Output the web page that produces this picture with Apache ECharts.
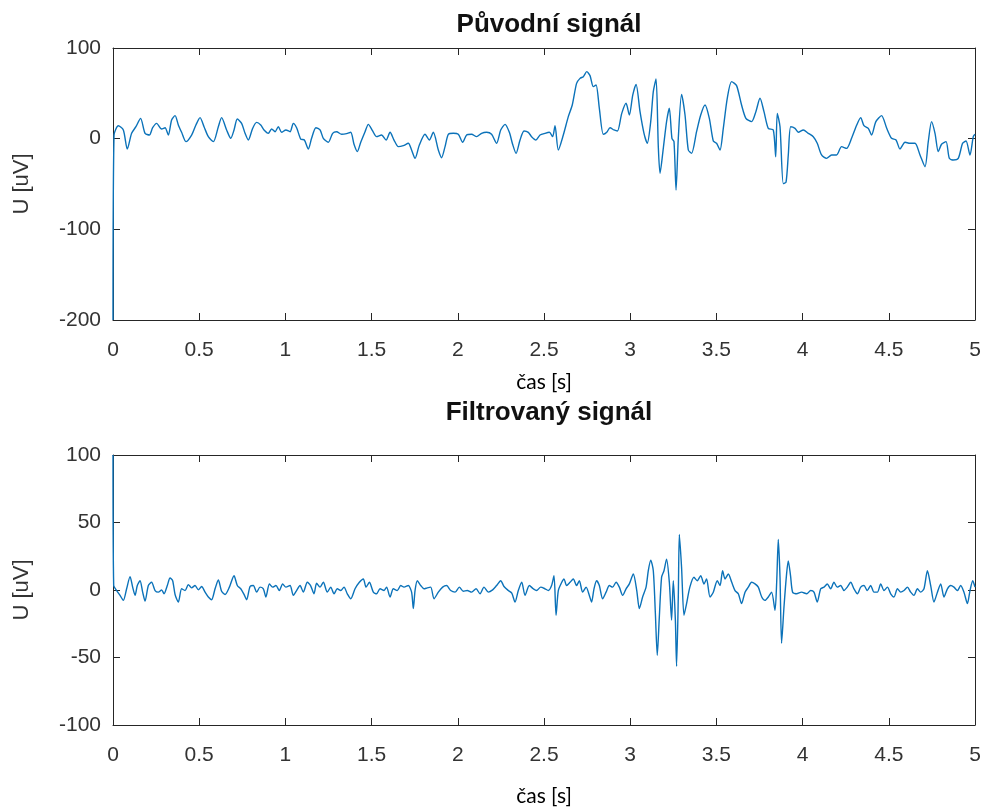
<!DOCTYPE html>
<html>
<head>
<meta charset="utf-8">
<script src="https://cdn.jsdelivr.net/npm/echarts@6/dist/echarts.min.js"></script>
<style>
html,body{margin:0;padding:0;background:#fff;}
#chart{width:988px;height:810px;}
</style>
</head>
<body>
<div id="chart"></div>
<script>
// ---- Data ----
const titles = ['Původní signál', 'Filtrovaný signál'];
const xLabel = 'čas [s]';
const yLabel = 'U [uV]';

const origT = [0,0.006,0.031,0.060,0.083,0.108,0.133,0.160,0.186,0.211,0.230,0.253,0.282,0.302,0.321,0.340,0.360,0.379,0.398,0.423,0.456,0.481,0.505,0.528,0.553,0.582,0.611,0.630,0.659,0.683,0.702,0.721,0.746,0.766,0.785,0.810,0.833,0.857,0.876,0.901,0.920,0.940,0.959,0.978,1.003,1.027,1.046,1.065,1.089,1.110,1.133,1.152,1.177,1.201,1.220,1.249,1.274,1.297,1.326,1.355,1.379,1.398,1.417,1.437,1.462,1.481,1.506,1.529,1.558,1.584,1.607,1.630,1.655,1.684,1.713,1.732,1.752,1.777,1.810,1.835,1.858,1.887,1.906,1.926,1.945,1.974,2.003,2.028,2.051,2.080,2.109,2.138,2.167,2.196,2.225,2.249,2.274,2.299,2.318,2.338,2.361,2.384,2.409,2.428,2.453,2.477,2.506,2.531,2.550,2.564,2.583,2.612,2.641,2.664,2.689,2.709,2.728,2.748,2.767,2.786,2.802,2.821,2.844,2.864,2.883,2.906,2.926,2.951,2.976,2.995,3.015,3.034,3.057,3.080,3.099,3.119,3.134,3.150,3.163,3.173,3.192,3.211,3.227,3.242,3.254,3.266,3.279,3.298,3.318,3.337,3.356,3.385,3.409,3.434,3.459,3.482,3.501,3.521,3.540,3.563,3.588,3.617,3.646,3.671,3.704,3.729,3.753,3.776,3.801,3.830,3.844,3.853,3.869,3.888,3.904,3.917,3.931,3.956,3.975,4.004,4.033,4.062,4.085,4.110,4.139,4.168,4.197,4.226,4.255,4.284,4.314,4.337,4.356,4.381,4.400,4.425,4.458,4.488,4.516,4.542,4.565,4.594,4.623,4.652,4.681,4.710,4.729,4.748,4.768,4.787,4.806,4.832,4.851,4.874,4.903,4.928,4.948,4.971,4.990,5.000];
const origV = [-200,4.0,14.3,9.6,-11.4,5.9,13.2,22.4,5.9,4.0,12.1,16.9,10.7,12.1,4.0,20.6,25.4,15.1,7.0,-3.3,4.0,15.1,23.2,13.2,2.2,-3.3,13.2,23.2,9.6,0.4,9.6,21.7,16.9,5.9,-1.5,11.4,18.0,15.1,9.6,5.9,10.7,7.7,13.2,7.0,9.6,7.7,16.9,12.1,-0.4,-1.5,-11.4,0.4,12.1,9.6,0.4,-4.0,5.9,7.7,4.8,5.5,7.0,-6.2,-14.3,-4.0,7.7,15.8,8.5,2.2,4.0,-1.5,7.0,-1.5,-8.8,-7.7,-5.1,-12.5,-21.7,-7.0,4.8,-1.5,7.0,-12.5,-21.0,-8.8,4.8,5.9,4.8,-4.0,4.0,4.8,2.2,5.9,7.0,4.8,-5.1,9.6,15.8,7.0,-6.2,-16.2,-1.5,8.5,7.0,2.2,-1.5,4.0,5.9,7.0,2.2,14.3,-12.5,4.0,24.3,37.1,61.0,66.5,68.4,73.9,69.5,57.4,59.2,33.5,4.8,7.0,12.1,9.6,8.5,27.9,39.0,26.1,48.2,59.9,29.8,5.9,-5.1,18.8,51.8,65.8,-8.8,-38.2,-10.7,18.8,33.5,0.4,-3.3,-56.6,0.4,48.9,26.1,-12.5,-16.2,7.7,26.1,37.1,22.4,-2.6,-5.1,-12.5,11.4,44.5,62.9,58.5,37.1,22.4,18.8,29.8,44.5,29.8,11.4,9.6,-19.9,27.9,13.2,-49.6,-47.8,-18.0,13.2,11.4,7.0,9.6,5.9,2.2,-5.1,-18.0,-21.7,-18.0,-18.0,-8.8,-10.7,0.4,15.1,23.2,14.3,11.4,4.0,18.8,25.4,11.4,0.4,-1.5,-11.4,-4.0,-5.1,-5.1,-18.0,-30.9,-3.3,18.8,5.9,-14.3,-6.2,-3.3,-21.7,-23.5,-21.7,-5.1,-2.6,-18.0,2.2,4.8];

const filtT = [0,0.004,0.021,0.041,0.060,0.079,0.099,0.114,0.128,0.141,0.157,0.172,0.186,0.205,0.224,0.244,0.263,0.282,0.296,0.315,0.331,0.346,0.360,0.379,0.398,0.418,0.437,0.456,0.476,0.495,0.514,0.534,0.553,0.572,0.592,0.611,0.630,0.650,0.675,0.702,0.721,0.741,0.760,0.775,0.795,0.814,0.833,0.853,0.872,0.887,0.907,0.926,0.945,0.965,0.984,1.003,1.027,1.046,1.065,1.085,1.104,1.127,1.146,1.166,1.181,1.201,1.220,1.243,1.263,1.282,1.301,1.321,1.340,1.359,1.379,1.404,1.429,1.452,1.468,1.487,1.510,1.529,1.549,1.572,1.587,1.607,1.626,1.649,1.669,1.688,1.713,1.732,1.742,1.752,1.765,1.785,1.804,1.823,1.843,1.862,1.887,1.912,1.935,1.959,1.984,2.009,2.032,2.055,2.080,2.106,2.129,2.152,2.177,2.202,2.225,2.249,2.268,2.293,2.313,2.332,2.351,2.371,2.390,2.415,2.438,2.457,2.481,2.506,2.525,2.544,2.558,2.570,2.583,2.603,2.616,2.631,2.651,2.670,2.689,2.705,2.724,2.744,2.763,2.776,2.790,2.805,2.821,2.840,2.860,2.879,2.898,2.918,2.937,2.956,2.976,2.995,3.018,3.038,3.053,3.072,3.092,3.105,3.119,3.134,3.146,3.157,3.169,3.182,3.196,3.211,3.227,3.240,3.250,3.262,3.269,3.279,3.285,3.298,3.312,3.327,3.346,3.370,3.389,3.409,3.428,3.443,3.463,3.482,3.505,3.521,3.536,3.550,3.569,3.589,3.608,3.627,3.646,3.666,3.685,3.704,3.724,3.743,3.763,3.782,3.801,3.820,3.840,3.850,3.859,3.869,3.878,3.892,3.907,3.917,3.930,3.942,3.965,3.994,4.024,4.047,4.066,4.085,4.105,4.124,4.143,4.163,4.182,4.201,4.221,4.240,4.259,4.279,4.298,4.318,4.337,4.356,4.375,4.395,4.414,4.434,4.453,4.472,4.492,4.511,4.530,4.550,4.569,4.588,4.608,4.627,4.646,4.666,4.685,4.704,4.724,4.743,4.762,4.782,4.801,4.820,4.840,4.859,4.878,4.898,4.917,4.936,4.956,4.971,4.987,5.000];
const filtV = [100,3.3,-0.4,-4.0,-7.7,0.9,9.9,2.1,-4.0,3.3,6.9,-1.6,-8.2,3.3,5.7,-0.4,-1.6,0.1,-2.8,3.3,8.9,6.9,-3.3,-8.9,0.9,-0.4,4.0,1.6,3.3,0.1,2.6,-1.6,-5.2,-7.2,0.9,7.4,-0.9,-3.3,2.1,10.6,3.3,0.9,-3.3,-7.2,2.6,3.3,-1.6,2.1,0.9,-5.2,4.5,2.1,3.3,-0.4,4.5,2.1,3.3,-4.0,-0.4,3.3,-1.6,5.7,3.3,-2.8,5.0,2.1,5.7,-1.6,2.1,-2.8,0.9,-0.4,2.1,-2.8,-6.5,0.9,5.7,8.2,2.1,5.7,-1.6,-2.8,0.9,-0.4,2.1,-5.2,0.9,-0.4,3.3,2.1,3.3,-1.6,-13.8,-0.4,6.9,3.3,0.9,1.6,2.1,-6.5,-1.6,2.1,3.3,-0.4,-1.6,2.1,-0.9,-0.4,-1.6,0.9,-2.8,2.1,-1.6,0.1,3.3,6.9,2.6,-0.4,-2.3,-8.9,-0.4,5.7,-4.0,3.3,0.9,-0.4,2.1,0.9,-0.4,3.3,10.6,-18.7,-0.4,5.7,8.2,3.3,5.7,8.2,3.3,6.9,-1.6,2.1,-4.0,-8.9,0.9,6.9,3.3,-6.5,-1.6,3.3,2.1,5.7,2.1,-4.0,0.9,4.5,11.8,-0.4,-13.8,-5.2,2.1,14.3,22.1,14.3,-17.4,-48.4,-19.9,9.4,14.3,22.8,5.7,-22.3,6.9,-22.3,-56.5,-5.2,41.1,16.7,-18.7,-10.1,2.1,9.4,6.9,10.6,4.5,8.2,-5.2,-1.6,6.9,3.3,14.3,8.2,11.8,5.7,-0.4,-2.8,-10.1,-1.6,2.1,5.7,4.5,2.1,-5.2,-7.7,-5.2,-1.6,-15.0,6.9,37.4,9.4,-39.4,-12.6,11.8,21.6,10.6,-1.6,-2.8,-1.6,-2.8,-0.4,-1.6,-8.9,0.9,2.1,4.5,0.9,5.7,2.1,3.3,-0.4,2.1,5.7,0.9,-2.8,2.1,3.3,-0.4,3.3,-1.6,-1.6,4.5,-0.4,2.1,-2.8,-5.2,0.9,-1.6,-0.4,2.1,-1.6,-4.0,0.9,-1.6,0.9,14.3,3.3,-8.9,-1.6,4.5,-5.2,0.9,3.3,2.1,-0.4,3.3,-1.6,-10.1,-0.4,6.9,2.1];

const xTicks = {min: 0, max: 5, interval: 0.5};
const yTicksTop = {min: -200, max: 100, interval: 100};
const yTicksBottom = {min: -100, max: 100, interval: 50};

// ---- Chart ----
const zip = (t, v) => t.map((x, i) => [x, v[i]]);
const AX = '#262626';
const LBL = '#333333';
const FONT = 'Liberation Sans, Arial, sans-serif';
const axisLine = {show: true, onZero: false, lineStyle: {color: AX, width: 1}};
const axisTick = {show: true, inside: true, length: 7, lineStyle: {color: AX}};

function xAxes(gridIndex, nameGap) {
  return [
    {
      type: 'value', gridIndex, position: 'bottom', ...xTicks,
      axisLine, axisTick,
      axisLabel: {show: true, color: LBL, fontSize: 21, fontFamily: FONT, margin: 20},
      splitLine: {show: false},
      name: xLabel, nameLocation: 'middle', nameGap,
      nameTextStyle: {color: '#000', fontSize: 21, fontFamily: 'Lato, Open Sans, sans-serif'}
    },
    {
      type: 'value', gridIndex, position: 'top', ...xTicks,
      axisLine, axisTick,
      axisLabel: {show: false}, splitLine: {show: false}
    }
  ];
}
function yAxes(gridIndex, ticks) {
  return [
    {
      type: 'value', gridIndex, position: 'left', ...ticks,
      axisLine, axisTick,
      axisLabel: {show: true, color: LBL, fontSize: 21, fontFamily: FONT, margin: 12},
      splitLine: {show: false},
      name: yLabel, nameLocation: 'middle', nameGap: 80, nameRotate: 90,
      nameTextStyle: {color: LBL, fontSize: 22, fontFamily: FONT}
    },
    {
      type: 'value', gridIndex, position: 'right', ...ticks,
      axisLine, axisTick,
      axisLabel: {show: false}, splitLine: {show: false}
    }
  ];
}

const chart = echarts.init(document.getElementById('chart'), null, {renderer: 'canvas'});
const lineStyle = {color: '#0b72b9', width: 1.4};
chart.setOption({
  backgroundColor: '#ffffff',
  animation: false,
  title: [
    {text: titles[0], left: 544, top: 7, textAlign: 'center',
     textStyle: {fontSize: 26, fontWeight: 'bold', color: '#111', fontFamily: FONT}},
    {text: titles[1], left: 544, top: 395, textAlign: 'center',
     textStyle: {fontSize: 26, fontWeight: 'bold', color: '#111', fontFamily: FONT}}
  ],
  grid: [
    {left: 113, right: 13, top: 48, height: 272},
    {left: 113, right: 13, top: 455, height: 270}
  ],
  xAxis: [...xAxes(0, 52), ...xAxes(1, 61)],
  yAxis: [...yAxes(0, yTicksTop), ...yAxes(1, yTicksBottom)],
  series: [
    {type: 'line', xAxisIndex: 0, yAxisIndex: 0, data: zip(origT, origV),
     showSymbol: false, smooth: 0.25, lineStyle, z: 3},
    {type: 'line', xAxisIndex: 2, yAxisIndex: 2, data: zip(filtT, filtV),
     showSymbol: false, smooth: 0.25, lineStyle, z: 3}
  ]
});
</script>
</body>
</html>
